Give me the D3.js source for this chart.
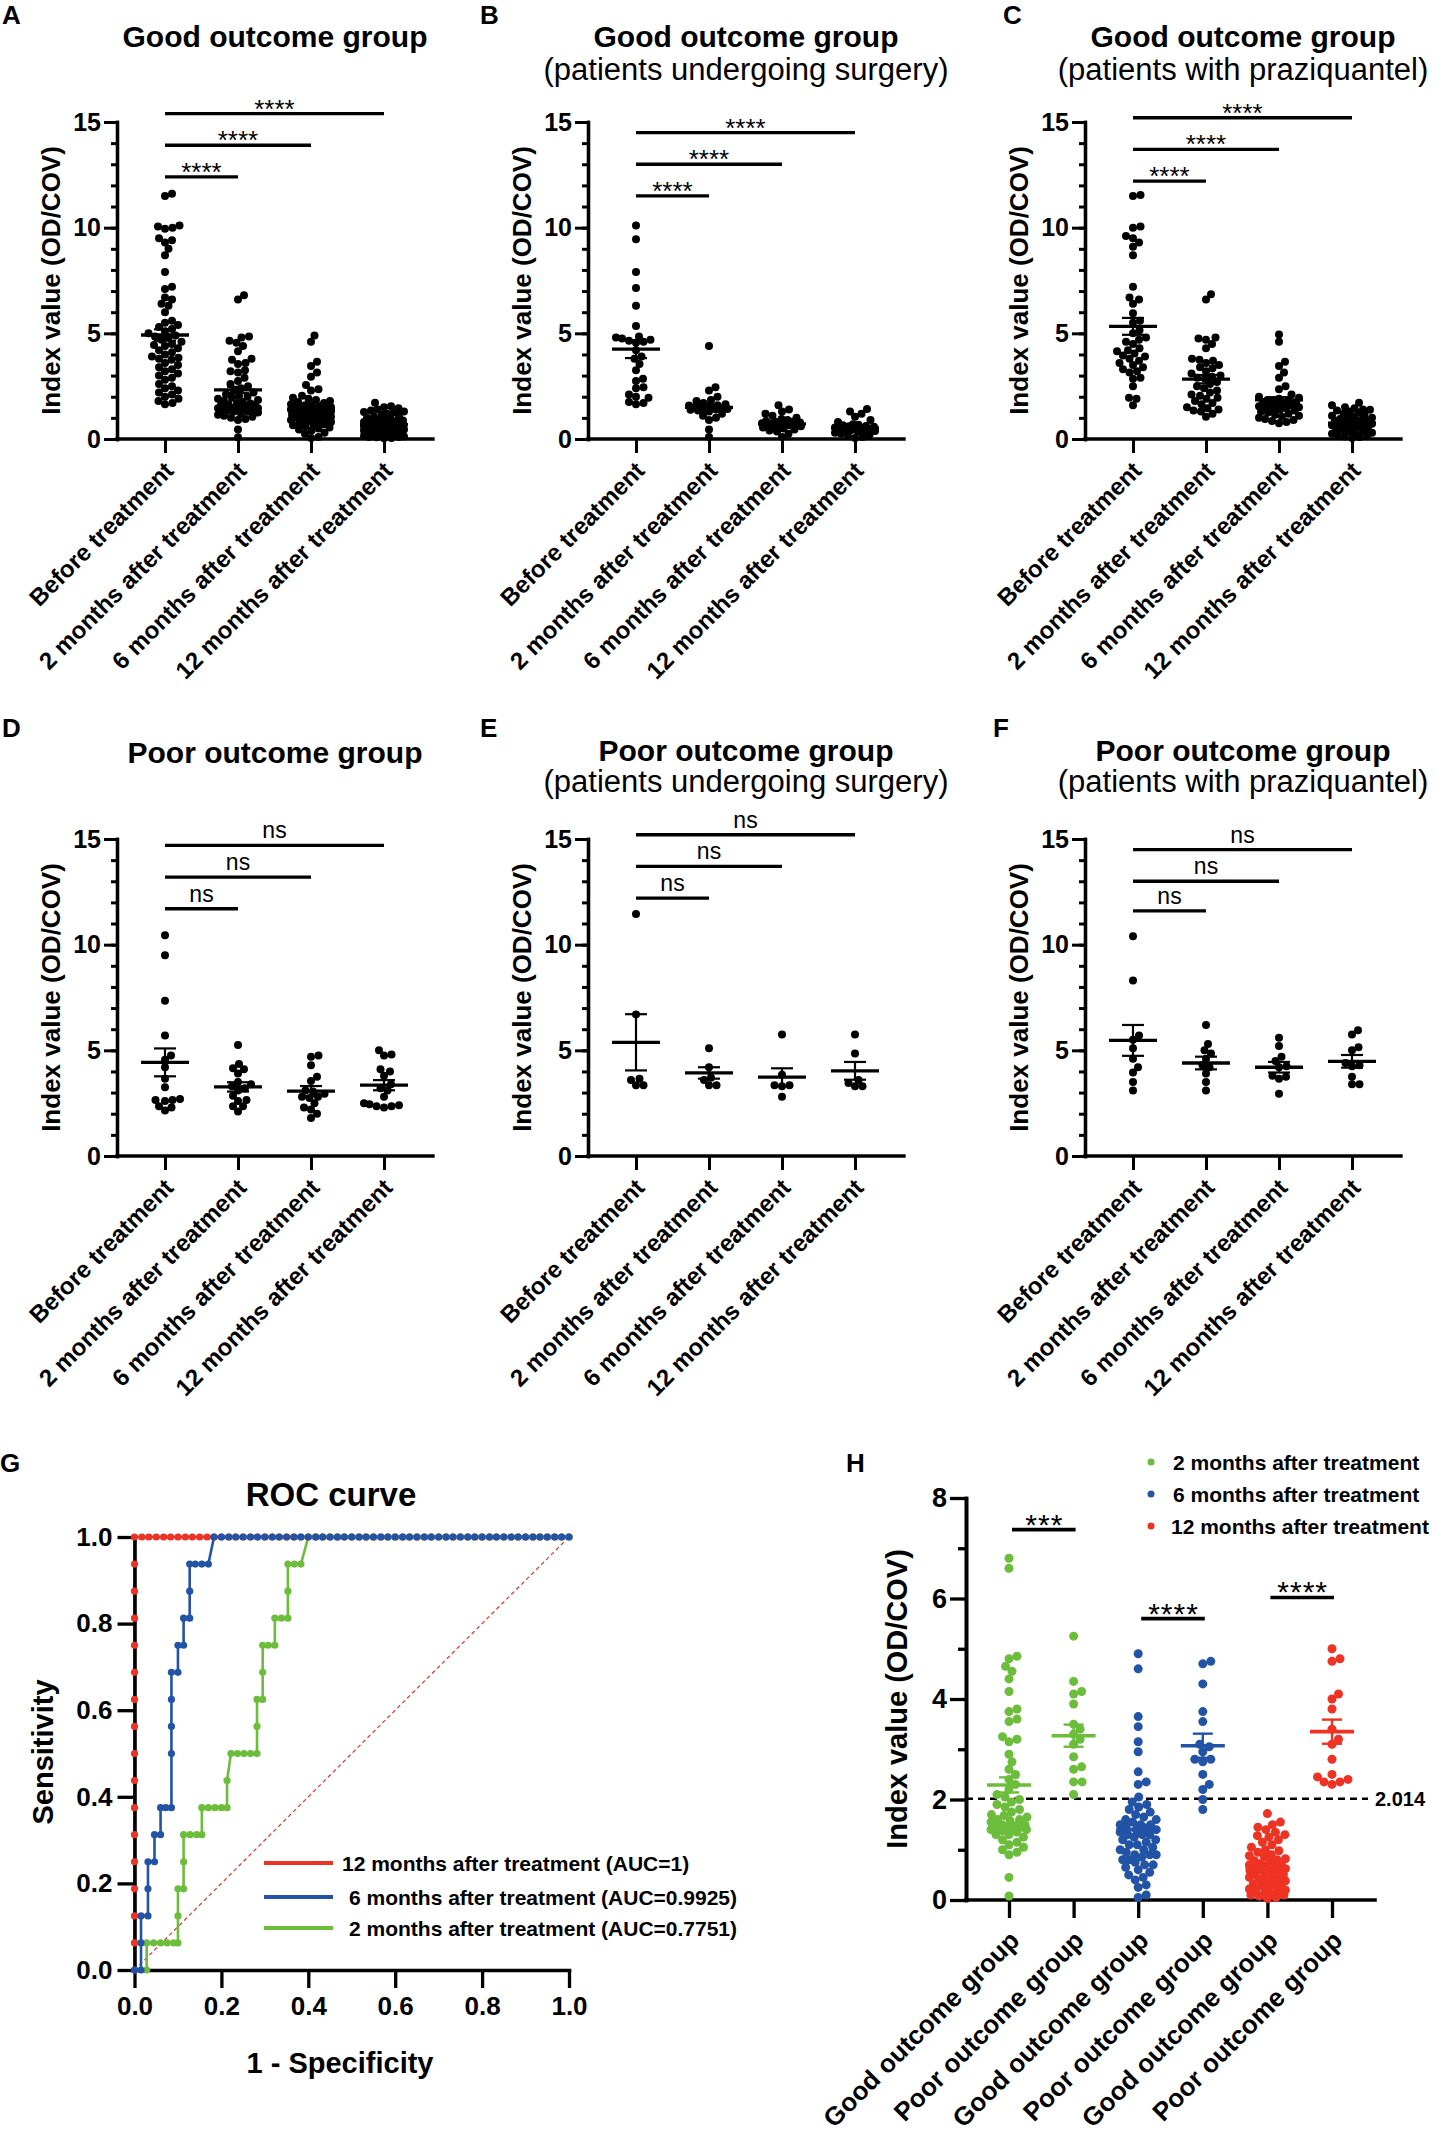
<!DOCTYPE html>
<html>
<head>
<meta charset="utf-8">
<script src="https://cdn.jsdelivr.net/npm/d3@7"></script>
<style>
body { margin: 0; background: #fff; }
text { font-family: "Liberation Sans", Arial, Helvetica, sans-serif; fill: #000; }
</style>
</head>
<body>
<div id="main"></div>
<script>
// ---------- data ----------
const cats = ["Before treatment", "2 months after treatment", "6 months after treatment", "12 months after treatment"];

// A: good outcome group (all)
const goodBefore = [11.6, 11.5, 10.1, 10.0, 10.05, 9.95, 9.5, 9.4, 9.3, 9.0, 8.7, 7.9, 7.2, 7.1, 6.7, 6.6, 6.4, 6.3, 6.0, 5.6,
  5.5, 5.4, 5.3, 5.2, 5.1, 5.0, 4.9, 4.85, 4.8, 4.7, 4.6, 4.5, 4.45, 4.4, 4.3, 4.2, 4.1, 4.0, 3.9, 3.85,
  3.8, 3.75, 3.6, 3.5, 3.4, 3.3, 3.2, 3.1, 3.0, 2.9, 2.8, 2.6, 2.5, 2.4, 2.3, 2.2, 2.1, 2.0, 1.9, 1.8, 1.65, 1.7];
const good2m = [6.8, 6.6, 4.85, 4.8, 4.65, 4.55, 4.4, 4.15, 3.8, 3.75, 3.6, 3.55, 3.25, 3.2, 3.15, 2.9, 2.75, 2.6, 2.5, 2.4,
  2.3, 2.2, 2.1, 2.05, 2.0, 1.95, 1.9, 1.85, 1.8, 1.75, 1.7, 1.68, 1.65, 1.6, 1.58, 1.55, 1.5, 1.48, 1.45, 1.45,
  1.42, 1.4, 1.4, 1.38, 1.35, 1.3, 1.3, 1.25, 1.2, 1.15, 1.1, 1.05, 1.0, 0.95, 0.9, 0.45, 0.08, 1.5, 1.6, 1.45];
const good6m = [4.9, 4.6, 3.65, 3.45, 3.15, 2.95, 2.55, 2.35, 2.3, 2.05, 1.95, 1.9, 1.85, 1.8, 1.75, 1.7, 1.65, 1.6, 1.55, 1.5,
  1.5, 1.45, 1.4, 1.4, 1.35, 1.3, 1.3, 1.25, 1.2, 1.15, 1.1, 1.1, 1.05, 1.0, 0.95, 0.9, 0.9, 0.85, 0.8, 0.8,
  0.75, 0.7, 0.7, 0.65, 0.6, 0.55, 0.5, 0.45, 0.4, 0.3, 0.25, 0.1, 0.05, 1.6, 1.5, 1.4, 1.3, 1.2, 1.0, 0.9];
const good12m = [1.72, 1.55, 1.5, 1.45, 1.4, 1.35, 1.3, 1.28, 1.25, 1.2, 1.15, 1.1, 1.05, 1.0, 0.98, 0.95, 0.9, 0.88, 0.85, 0.82,
  0.8, 0.78, 0.75, 0.72, 0.7, 0.68, 0.65, 0.62, 0.6, 0.58, 0.55, 0.52, 0.5, 0.48, 0.45, 0.42, 0.4, 0.38, 0.35, 0.32,
  0.3, 0.28, 0.25, 0.22, 0.2, 0.18, 0.15, 0.12, 0.1, 0.08, 0.05, 0.03, 0.7, 0.6, 0.5, 0.4, 0.3, 0.2, 0.1, 0.65];
const meanA = [4.92, 2.32, 1.4, 0.68];
const semA = [0.27, 0.15, 0.1, 0.05];

// B: good outcome, surgery
const surgGoodBefore = [10.1, 9.45, 7.9, 7.15, 6.3, 5.35, 4.85, 4.8, 4.75, 4.7, 4.65, 4.6, 4.55, 4.2, 3.9, 3.8, 3.55, 3.25, 2.85, 2.75,
  2.45, 2.4, 2.1, 2.0, 1.95, 1.75, 1.65, 1.7];
const surgGood2m = [4.4, 2.45, 2.3, 2.0, 1.85, 1.8, 1.7, 1.65, 1.6, 1.58, 1.55, 1.52, 1.5, 1.5, 1.48, 1.45, 1.42, 1.4, 1.38, 1.35,
  1.3, 1.2, 1.1, 1.0, 0.9, 0.45, 0.1];
const surgGood6m = [1.6, 1.4, 1.3, 1.2, 1.1, 1.0, 0.95, 0.9, 0.85, 0.82, 0.8, 0.78, 0.75, 0.72, 0.7, 0.68, 0.65, 0.62, 0.6, 0.55,
  0.5, 0.45, 0.4, 0.35, 0.25, 0.1, 0.7, 0.75];
const surgGood12m = [1.42, 1.3, 1.2, 1.05, 0.9, 0.8, 0.7, 0.68, 0.65, 0.62, 0.6, 0.58, 0.55, 0.52, 0.5, 0.5, 0.48, 0.45, 0.42, 0.4,
  0.38, 0.35, 0.3, 0.25, 0.2, 0.15, 0.1, 0.05];
const meanB = [4.25, 1.5, 0.72, 0.52];
const semB = [0.42, 0.14, 0.06, 0.06];

// C: good outcome, praziquantel
const pzqGoodBefore = [11.55, 11.5, 10.05, 10.0, 9.6, 9.5, 9.3, 9.1, 8.7, 7.2, 6.7, 6.6, 6.4, 5.95, 5.6, 5.5, 5.15, 5.0, 4.8, 4.7,
  4.6, 4.5, 4.3, 4.2, 4.15, 4.05, 3.95, 3.9, 3.8, 3.7, 3.6, 3.5, 3.4, 3.3, 3.2, 3.15, 2.9, 2.85, 2.5, 1.95, 1.9, 1.6];
const pzqGood2m = [6.85, 6.6, 4.8, 4.75, 4.7, 4.5, 4.3, 3.8, 3.75, 3.7, 3.6, 3.5, 3.4, 3.35, 3.2, 3.1, 3.0, 2.95, 2.9, 2.85,
  2.7, 2.6, 2.5, 2.4, 2.3, 2.2, 2.1, 2.05, 1.95, 1.9, 1.8, 1.7, 1.65, 1.5, 1.45, 1.4, 1.35, 1.3, 1.2, 1.05];
const pzqGood6m = [4.95, 4.6, 3.65, 3.45, 3.15, 2.9, 2.5, 2.35, 2.1, 2.0, 1.95, 1.9, 1.85, 1.8, 1.8, 1.75, 1.7, 1.7, 1.65, 1.6,
  1.6, 1.55, 1.5, 1.5, 1.45, 1.4, 1.4, 1.35, 1.3, 1.25, 1.2, 1.15, 1.1, 1.05, 1.0, 0.95, 0.9, 0.85, 0.8, 0.75];
const pzqGood12m = [1.72, 1.6, 1.5, 1.45, 1.4, 1.38, 1.35, 1.3, 1.25, 1.2, 1.15, 1.1, 1.05, 1.0, 0.98, 0.95, 0.9, 0.88, 0.85, 0.8,
  0.78, 0.75, 0.72, 0.7, 0.68, 0.65, 0.6, 0.58, 0.55, 0.5, 0.48, 0.45, 0.4, 0.35, 0.3, 0.28, 0.25, 0.2, 0.15, 0.12, 0.1, 0.05];
const meanC = [5.33, 2.83, 1.85, 0.75];
const semC = [0.4, 0.2, 0.13, 0.06];

// D: poor outcome group (all)
const poorBefore = [10.45, 9.5, 7.35, 5.7, 4.75, 4.55, 4.2, 3.65, 3.25, 2.7, 2.65, 2.6, 2.65, 2.35, 2.3, 2.15];
const poor2m = [5.25, 4.35, 4.15, 4.1, 3.9, 3.5, 3.4, 3.3, 3.2, 3.1, 2.85, 2.65, 2.6, 2.35, 2.35, 2.1];
const poor6m = [4.75, 4.7, 4.3, 3.75, 3.55, 3.1, 3.05, 2.95, 2.8, 2.8, 2.75, 2.5, 2.3, 2.2, 2.0, 1.8];
const poor12m = [5.0, 4.8, 4.75, 4.1, 4.0, 3.8, 3.4, 3.2, 3.1, 2.8, 2.5, 2.45, 2.4, 2.35, 2.3, 2.35];
const meanD = [4.43, 3.27, 3.07, 3.35];
const semD = [0.66, 0.22, 0.24, 0.24];

// E: poor outcome, surgery
const surgPoorBefore = [11.45, 6.7, 3.65, 3.35, 3.35, 3.6];
const surgPoor2m = [5.1, 4.2, 3.7, 3.6, 3.35, 3.35];
const surgPoor6m = [5.75, 3.85, 3.35, 3.35, 3.3, 2.8];
const surgPoor12m = [5.75, 4.85, 3.6, 3.45, 3.3, 3.3];
const meanE = [5.38, 3.93, 3.73, 4.03];
const semE = [1.33, 0.27, 0.42, 0.42];

// F: poor outcome, praziquantel
const pzqPoorBefore = [10.4, 8.3, 5.7, 5.5, 5.1, 4.6, 4.2, 3.95, 3.5, 3.1];
const pzqPoor2m = [6.2, 5.3, 5.0, 4.85, 4.6, 4.3, 4.2, 3.9, 3.5, 3.1];
const pzqPoor6m = [5.6, 5.2, 4.7, 4.5, 4.25, 4.2, 3.8, 3.75, 3.65, 2.95];
const pzqPoor12m = [5.95, 5.75, 5.15, 5.0, 4.4, 4.3, 4.25, 3.75, 3.4, 3.4];
const meanF = [5.47, 4.4, 4.2, 4.48];
const semF = [0.73, 0.3, 0.25, 0.3];

// significance brackets: [from, to, height]
const sigA = [[0, 1, 12.4], [0, 2, 13.9], [0, 3, 15.4]];
const sigB = [[0, 1, 11.5], [0, 2, 13.0], [0, 3, 14.5]];
const sigC = [[0, 1, 12.2], [0, 2, 13.7], [0, 3, 15.2]];
const sigD = [[0, 1, 11.7], [0, 2, 13.2], [0, 3, 14.7]];
const sigE = [[0, 1, 12.2], [0, 2, 13.7], [0, 3, 15.2]];
const sigF = [[0, 1, 11.6], [0, 2, 13.0], [0, 3, 14.5]];

// G: ROC curves, [1 - specificity, sensitivity]
const rocTopRow = [0, 0.017, 0.033, 0.05, 0.067, 0.083, 0.1, 0.117, 0.133, 0.15, 0.167, 0.183, 0.2, 0.217, 0.233, 0.25,
  0.267, 0.283, 0.3, 0.317, 0.333, 0.35, 0.367, 0.383, 0.4, 0.417, 0.433, 0.45, 0.467, 0.483, 0.5, 0.517,
  0.533, 0.55, 0.567, 0.583, 0.6, 0.617, 0.633, 0.65, 0.667, 0.683, 0.7, 0.717, 0.733, 0.75, 0.767, 0.783,
  0.8, 0.817, 0.833, 0.85, 0.867, 0.883, 0.9, 0.917, 0.933, 0.95, 0.967, 0.983, 1];
const roc12 = [[0, 0], [0, 0.0625], [0, 0.125], [0, 0.1875], [0, 0.25], [0, 0.3125], [0, 0.375], [0, 0.4375], [0, 0.5],
  [0, 0.5625], [0, 0.625], [0, 0.6875], [0, 0.75], [0, 0.8125], [0, 0.875], [0, 0.9375]];
const roc6 = [[0, 0], [0.015, 0], [0.015, 0.0625], [0.015, 0.125], [0.031, 0.125], [0.031, 0.1875], [0.031, 0.25],
  [0.046, 0.25], [0.046, 0.3125], [0.06, 0.3125], [0.06, 0.375], [0.072, 0.375], [0.085, 0.375], [0.085, 0.5],
  [0.085, 0.5625], [0.085, 0.625], [0.085, 0.6875], [0.1, 0.6875], [0.1, 0.75], [0.113, 0.75], [0.113, 0.8125],
  [0.127, 0.8125], [0.127, 0.875], [0.127, 0.9375], [0.14, 0.9375], [0.155, 0.9375], [0.17, 0.9375]];
const roc2 = [[0.028, 0], [0.028, 0.0625], [0.044, 0.0625], [0.06, 0.0625], [0.075, 0.0625], [0.09, 0.0625], [0.1, 0.0625],
  [0.1, 0.125], [0.1, 0.1875], [0.113, 0.1875], [0.113, 0.25], [0.113, 0.3125], [0.128, 0.3125], [0.143, 0.3125],
  [0.155, 0.3125], [0.155, 0.375], [0.17, 0.375], [0.185, 0.375], [0.2, 0.375], [0.213, 0.375], [0.213, 0.4375],
  [0.222, 0.5], [0.237, 0.5], [0.252, 0.5], [0.267, 0.5], [0.282, 0.5], [0.282, 0.5625], [0.282, 0.625],
  [0.295, 0.625], [0.295, 0.6875], [0.295, 0.75], [0.308, 0.75], [0.323, 0.75], [0.323, 0.8125], [0.338, 0.8125],
  [0.353, 0.8125], [0.353, 0.875], [0.353, 0.9375], [0.368, 0.9375], [0.383, 0.9375]];
const rocLegend = ["12 months after treatment (AUC=1)", "6 months after treatment (AUC=0.9925)", "2 months after treatment (AUC=0.7751)"];

// H: good vs poor at each follow-up
const hCats = ["Good outcome group", "Poor outcome group", "Good outcome group", "Poor outcome group", "Good outcome group", "Poor outcome group"];
const hGroups = [good2m, poor2m, good6m, poor6m, good12m, poor12m];
const hMean = [2.29, 3.27, 1.4, 3.07, 0.65, 3.35];
const hSem = [0.15, 0.22, 0.1, 0.24, 0.05, 0.24];
const hSig = [[0, 1, 7.37, "***"], [2, 3, 5.6, "****"], [4, 5, 6.02, "****"]];
const hLegend = ["2 months after treatment", "6 months after treatment", "12 months after treatment"];
const cutoff = 2.014;

const GREEN = "#6cbd3c", BLUE = "#2353a6", RED = "#ee3223";

// ---------- drawing ----------
const svg = d3.select("#main").append("svg").attr("width", 1439).attr("height", 2135).style("background", "#fff");

// beeswarm inside a fixed half-width: first free slot, else the least crowded one
function swarm(vals, y, cx, r, maxW) {
  const pts = vals.map(v => ({ v: v, y: y(v) })).sort((a, b) => b.y - a.y);
  const placed = [];
  const d = 2 * r * 0.9;
  pts.forEach(p => {
    const near = placed.filter(q => Math.abs(q.y - p.y) < d);
    let best = 0, bestGap = -1;
    for (let k = 0; ; k++) {
      const o = (k % 2 ? 1 : -1) * Math.ceil(k / 2) * 0.5;
      if (Math.abs(o) > maxW) break;
      const gap = near.length ? d3.min(near, q => Math.hypot(q.dx - o, q.y - p.y)) : Infinity;
      if (gap >= d) { best = o; break; }
      if (gap > bestGap + 0.01) { bestGap = gap; best = o; }
    }
    p.dx = best;
    placed.push(p);
  });
  return placed.map(p => ({ v: p.v, x: cx + p.dx, y: p.y }));
}

function meanSem(g, cx, y, m, s, col, half, cap, w1, w2) {
  g.append("line").attr("x1", cx - half).attr("x2", cx + half).attr("y1", y(m)).attr("y2", y(m))
    .attr("stroke", col).attr("stroke-width", w1);
  g.append("line").attr("x1", cx).attr("x2", cx).attr("y1", y(m - s)).attr("y2", y(m + s))
    .attr("stroke", col).attr("stroke-width", w2);
  [m - s, m + s].forEach(v => {
    g.append("line").attr("x1", cx - cap).attr("x2", cx + cap).attr("y1", y(v)).attr("y2", y(v))
      .attr("stroke", col).attr("stroke-width", w2);
  });
}

function styleAxis(sel, lw, fs) {
  sel.select(".domain").attr("stroke", "#000").attr("stroke-width", lw).attr("stroke-linecap", "square");
  sel.selectAll(".tick line").attr("stroke", "#000").attr("stroke-width", lw - 0.3);
  sel.selectAll(".tick text").attr("fill", "#000").style("font-size", fs + "px").style("font-weight", "bold")
    .style("font-family", '"Liberation Sans", Arial, sans-serif');
}

const colX = [117, 588, 1085];
const rowTop = [122, 839];
const titleY = [[47, 80], [761, 792]];
const PH = 317, PW = 316;

const panels = [
  { letter: "A", lx: 2, ly: 24, col: 0, row: 0, title: ["Good outcome group"],
    data: [goodBefore, good2m, good6m, good12m], mean: meanA, sem: semA, sig: sigA, lab: "****" },
  { letter: "B", lx: 480, ly: 24, col: 1, row: 0, title: ["Good outcome group", "(patients undergoing surgery)"],
    data: [surgGoodBefore, surgGood2m, surgGood6m, surgGood12m], mean: meanB, sem: semB, sig: sigB, lab: "****" },
  { letter: "C", lx: 1003, ly: 24, col: 2, row: 0, title: ["Good outcome group", "(patients with praziquantel)"],
    data: [pzqGoodBefore, pzqGood2m, pzqGood6m, pzqGood12m], mean: meanC, sem: semC, sig: sigC, lab: "****" },
  { letter: "D", lx: 2, ly: 737, col: 0, row: 1, title: ["Poor outcome group"],
    data: [poorBefore, poor2m, poor6m, poor12m], mean: meanD, sem: semD, sig: sigD, lab: "ns" },
  { letter: "E", lx: 480, ly: 737, col: 1, row: 1, title: ["Poor outcome group", "(patients undergoing surgery)"],
    data: [surgPoorBefore, surgPoor2m, surgPoor6m, surgPoor12m], mean: meanE, sem: semE, sig: sigE, lab: "ns" },
  { letter: "F", lx: 993, ly: 737, col: 2, row: 1, title: ["Poor outcome group", "(patients with praziquantel)"],
    data: [pzqPoorBefore, pzqPoor2m, pzqPoor6m, pzqPoor12m], mean: meanF, sem: semF, sig: sigF, lab: "ns" }
];

panels.forEach(p => {
  const X = colX[p.col], top = rowTop[p.row], bot = top + PH;
  const y = d3.scaleLinear().domain([0, 15]).range([bot, top]);
  const x = d3.scalePoint().domain(cats).range([X + 48, X + 267]);
  const g = svg.append("g");

  g.append("text").attr("x", p.lx).attr("y", p.ly).text(p.letter)
    .style("font-size", "26px").style("font-weight", "bold");

  const ty = titleY[p.row];
  const single = p.title.length === 1;
  g.append("text").attr("x", X + 158).attr("y", single && p.row === 1 ? 763 : ty[0]).attr("text-anchor", "middle")
    .text(p.title[0]).style("font-size", "30px").style("font-weight", "bold");
  if (!single) {
    g.append("text").attr("x", X + 158).attr("y", ty[1]).attr("text-anchor", "middle")
      .text(p.title[1]).style("font-size", "31px");
  }

  // axes
  const minor = g.append("g").attr("transform", `translate(${X},0)`)
    .call(d3.axisLeft(y).tickValues(d3.range(0, 16)).tickSize(6).tickSizeOuter(0).tickFormat(""));
  styleAxis(minor, 3.3, 24);
  const major = g.append("g").attr("transform", `translate(${X},0)`)
    .call(d3.axisLeft(y).tickValues([0, 5, 10, 15]).tickSize(13).tickPadding(3).tickSizeOuter(0));
  styleAxis(major, 3.3, 25);
  g.append("line").attr("x1", X).attr("x2", X + PW).attr("y1", bot).attr("y2", bot)
    .attr("stroke", "#000").attr("stroke-width", 3.3).attr("stroke-linecap", "square");
  const xa = g.append("g").attr("transform", `translate(0,${bot})`)
    .call(d3.axisBottom(x).tickSize(14).tickFormat(""));
  xa.select(".domain").remove();
  styleAxis(xa, 3.3, 24);

  cats.forEach(c => {
    g.append("text").attr("transform", `translate(${x(c) + 10},${bot + 33}) rotate(-45)`)
      .attr("text-anchor", "end").text(c).style("font-size", "24px").style("font-weight", "bold");
  });

  g.append("text").attr("transform", `translate(${X - 57},${(top + bot) / 2}) rotate(-90)`)
    .attr("text-anchor", "middle").text("Index value (OD/COV)")
    .style("font-size", "26px").style("font-weight", "bold");

  // dots
  p.data.forEach((vals, i) => {
    const pts = swarm(vals, y, x(cats[i]), 4, 20);
    g.selectAll(null).data(pts).enter().append("circle")
      .attr("cx", d => d.x).attr("cy", d => d.y).attr("r", 4).attr("fill", "#000");
    meanSem(g, x(cats[i]), y, p.mean[i], p.sem[i], "#000", 24, 11, 3.3, 2.2);
  });

  // brackets
  p.sig.forEach(s => {
    const x1 = x(cats[s[0]]), x2 = x(cats[s[1]]), yy = y(s[2]);
    g.append("line").attr("x1", x1).attr("x2", x2).attr("y1", yy).attr("y2", yy)
      .attr("stroke", "#000").attr("stroke-width", 3.3);
    const isNs = p.lab === "ns";
    g.append("text").attr("x", (x1 + x2) / 2).attr("y", isNs ? yy - 7 : yy + 4)
      .attr("text-anchor", "middle").text(p.lab)
      .style("font-size", isNs ? "23px" : "26px");
  });
});

// ---------- G: ROC ----------
(function () {
  const g = svg.append("g");
  const x = d3.scaleLinear().domain([0, 1]).range([134.5, 569]);
  const y = d3.scaleLinear().domain([0, 1]).range([1970, 1537]);

  g.append("text").attr("x", 0).attr("y", 1472).text("G").style("font-size", "26px").style("font-weight", "bold");
  g.append("text").attr("x", 331).attr("y", 1506).attr("text-anchor", "middle").text("ROC curve")
    .style("font-size", "33px").style("font-weight", "bold");

  g.append("line").attr("x1", x(0)).attr("y1", y(0)).attr("x2", x(1)).attr("y2", y(1))
    .attr("stroke", RED).attr("stroke-width", 1.2).attr("stroke-dasharray", "4,3");

  const curves = [
    { pts: roc12.concat(rocTopRow.map(v => [v, 1])), col: RED },
    { pts: roc2.concat(rocTopRow.filter(v => v > 0.383).map(v => [v, 1])), col: GREEN },
    { pts: roc6.concat(rocTopRow.filter(v => v > 0.17).map(v => [v, 1])), col: BLUE }
  ];
  const line = d3.line().x(d => x(d[0])).y(d => y(d[1]));
  curves.forEach(c => {
    g.append("path").attr("d", line(c.pts)).attr("fill", "none").attr("stroke", c.col).attr("stroke-width", 2.6);
  });

  const ya = g.append("g").attr("transform", `translate(${x(0)},0)`)
    .call(d3.axisLeft(y).tickValues([0, 0.2, 0.4, 0.6, 0.8, 1]).tickFormat(d3.format(".1f")).tickSize(17).tickPadding(5).tickSizeOuter(0));
  styleAxis(ya, 3.6, 26);
  const xa = g.append("g").attr("transform", `translate(0,${y(0)})`)
    .call(d3.axisBottom(x).tickValues([0, 0.2, 0.4, 0.6, 0.8, 1]).tickFormat(d3.format(".1f")).tickSize(18).tickPadding(9).tickSizeOuter(0));
  styleAxis(xa, 3.6, 26);

  curves.forEach(c => {
    g.selectAll(null).data(c.pts).enter().append("circle")
      .attr("cx", d => x(d[0])).attr("cy", d => y(d[1])).attr("r", 3.6).attr("fill", c.col);
  });

  g.append("text").attr("transform", "translate(53,1752) rotate(-90)").attr("text-anchor", "middle")
    .text("Sensitivity").style("font-size", "29px").style("font-weight", "bold");
  g.append("text").attr("x", 340).attr("y", 2073).attr("text-anchor", "middle")
    .text("1 - Specificity").style("font-size", "29px").style("font-weight", "bold");

  const legCols = [RED, BLUE, GREEN];
  const legY = [1863, 1897, 1928];
  rocLegend.forEach((t, i) => {
    g.append("line").attr("x1", 264).attr("x2", 333).attr("y1", legY[i]).attr("y2", legY[i])
      .attr("stroke", legCols[i]).attr("stroke-width", 4);
    g.append("text").attr("x", i === 0 ? 342 : 349).attr("y", legY[i] + 7.5).text(t)
      .style("font-size", "21px").style("font-weight", "bold");
  });
})();

// ---------- H ----------
(function () {
  const g = svg.append("g");
  const X = 966, bot = 1900, top = 1498;
  const y = d3.scaleLinear().domain([0, 8]).range([bot, top]);
  const x = d3.scalePoint().domain(d3.range(hCats.length)).range([1009, 1332]);
  const cols = [GREEN, GREEN, BLUE, BLUE, RED, RED];

  g.append("text").attr("x", 846).attr("y", 1472).text("H").style("font-size", "26px").style("font-weight", "bold");

  const minor = g.append("g").attr("transform", `translate(${X},0)`)
    .call(d3.axisLeft(y).tickValues([1, 3, 5, 7]).tickSize(8).tickSizeOuter(0).tickFormat(""));
  styleAxis(minor, 3.6, 27);
  const major = g.append("g").attr("transform", `translate(${X},0)`)
    .call(d3.axisLeft(y).tickValues([0, 2, 4, 6, 8]).tickSize(16).tickPadding(3).tickSizeOuter(0));
  styleAxis(major, 3.6, 27);
  g.append("line").attr("x1", X).attr("x2", 1375).attr("y1", bot).attr("y2", bot)
    .attr("stroke", "#000").attr("stroke-width", 3.6).attr("stroke-linecap", "square");
  const xa = g.append("g").attr("transform", `translate(0,${bot})`)
    .call(d3.axisBottom(x).tickSize(18).tickFormat(""));
  xa.select(".domain").remove();
  styleAxis(xa, 3.6, 27);

  hCats.forEach((c, i) => {
    g.append("text").attr("transform", `translate(${x(i) + 12},${bot + 42}) rotate(-45)`)
      .attr("text-anchor", "end").text(c).style("font-size", "26px").style("font-weight", "bold");
  });

  g.append("text").attr("transform", `translate(${X - 59},${(top + bot) / 2}) rotate(-90)`)
    .attr("text-anchor", "middle").text("Index value (OD/COV)")
    .style("font-size", "29px").style("font-weight", "bold");

  // cut-off
  g.append("line").attr("x1", X).attr("x2", 1368).attr("y1", y(cutoff)).attr("y2", y(cutoff))
    .attr("stroke", "#000").attr("stroke-width", 2.4).attr("stroke-dasharray", "7,5");
  g.append("text").attr("x", 1375).attr("y", y(cutoff) + 7).text(cutoff.toFixed(3))
    .style("font-size", "20px").style("font-weight", "bold");

  hGroups.forEach((vals, i) => {
    const pts = swarm(vals, y, x(i), 4.5, 18);
    g.selectAll(null).data(pts).enter().append("circle")
      .attr("cx", d => d.x).attr("cy", d => d.y).attr("r", 4.5).attr("fill", cols[i]);
    meanSem(g, x(i), y, hMean[i], hSem[i], cols[i], 22, 10, 3.6, 2.4);
  });

  hSig.forEach(s => {
    const x1 = x(s[0]), x2 = x(s[1]), yy = y(s[2]);
    g.append("line").attr("x1", x1 + 3).attr("x2", x2 + 2).attr("y1", yy).attr("y2", yy)
      .attr("stroke", "#000").attr("stroke-width", 3.6);
    g.append("text").attr("x", (x1 + x2) / 2 + 3).attr("y", yy + 5).attr("text-anchor", "middle")
      .text(s[3]).style("font-size", "30px").style("letter-spacing", "1px");
  });

  const legCols = [GREEN, BLUE, RED];
  const legY = [1462, 1494, 1526];
  hLegend.forEach((t, i) => {
    g.append("circle").attr("cx", 1151).attr("cy", legY[i]).attr("r", 3.5).attr("fill", legCols[i]);
    g.append("text").attr("x", i === 2 ? 1171 : 1173).attr("y", legY[i] + 7.5).text(t)
      .style("font-size", "21px").style("font-weight", "bold");
  });
})();
</script>
</body>
</html>
